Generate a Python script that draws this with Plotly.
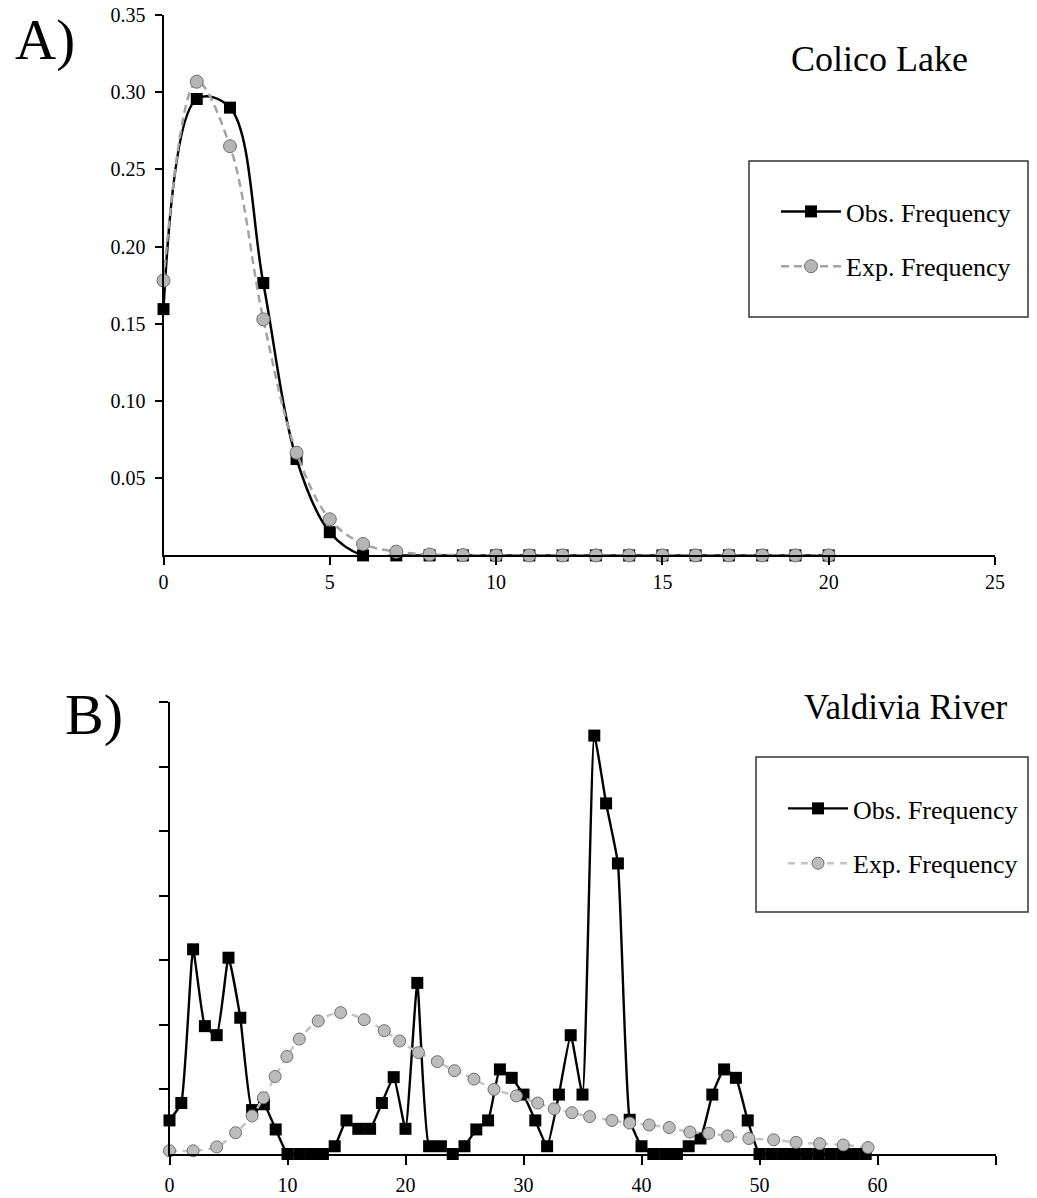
import plotly.graph_objects as go

# ---------------- Data ----------------
# Panel A: Colico Lake
a_x = list(range(21))
a_obs = [0.1595, 0.2956, 0.2900, 0.1764, 0.0624, 0.0150, 0.0, 0.0, 0.0, 0.0,
         0.0, 0.0, 0.0, 0.0, 0.0, 0.0, 0.0, 0.0, 0.0, 0.0, 0.0]
a_exp = [0.1780, 0.3068, 0.2650, 0.1529, 0.0665, 0.0234, 0.0074, 0.0024, 0.0006, 0.0002,
         0.0, 0.0, 0.0, 0.0, 0.0, 0.0, 0.0, 0.0, 0.0, 0.0, 0.0]

# Panel B: Valdivia River
b_obs_x = list(range(60))
b_obs = [0.0052, 0.0079, 0.0317, 0.0198, 0.0184, 0.0304, 0.0211, 0.0068, 0.0077, 0.0038,
         0.0, 0.0, 0.0, 0.0, 0.0012, 0.0052, 0.0039, 0.0039, 0.0079, 0.0119,
         0.0039, 0.0265, 0.0012, 0.0012, 0.0, 0.0012, 0.0038, 0.0052, 0.0131, 0.0118,
         0.0092, 0.0052, 0.0012, 0.0092, 0.0184, 0.0092, 0.0648, 0.0543, 0.0450, 0.0053,
         0.0012, 0.0, 0.0, 0.0, 0.0012, 0.0024, 0.0092, 0.0131, 0.0118, 0.0052,
         0.0, 0.0, 0.0, 0.0, 0.0, 0.0, 0.0, 0.0, 0.0, 0.0]
b_exp_x = [0.0, 2.0, 4.0, 5.6, 7.0, 7.95, 8.95, 9.95, 11.0, 12.6,
           14.5, 16.5, 18.2, 19.5, 21.1, 22.7, 24.15, 25.8, 27.5, 29.4,
           31.2, 32.6, 34.1, 35.6, 37.5, 39.0, 40.65, 42.35, 44.1, 45.7,
           47.3, 49.1, 51.2, 53.1, 55.1, 57.1, 59.2]
b_exp = [0.0005, 0.0005, 0.0011, 0.0033, 0.0059, 0.0087, 0.0120, 0.0151, 0.0178, 0.0206,
         0.0219, 0.0208, 0.0191, 0.0175, 0.0157, 0.0143, 0.0129, 0.0116, 0.0100, 0.0090,
         0.0079, 0.0070, 0.0064, 0.0058, 0.0052, 0.0048, 0.0045, 0.0041, 0.0034, 0.0032,
         0.0028, 0.0024, 0.0022, 0.0018, 0.0016, 0.0014, 0.0010]

a_xticks = [0, 5, 10, 15, 20, 25]
a_yticks = [0.05, 0.10, 0.15, 0.20, 0.25, 0.30, 0.35]
b_xticks = [0, 10, 20, 30, 40, 50, 60, 70]
b_xticktext = ["0", "10", "20", "30", "40", "50", "60", ""]
b_yticks = [0.01, 0.02, 0.03, 0.04, 0.05, 0.06, 0.07]

OBS_NAME = "Obs. Frequency"
EXP_NAME = "Exp. Frequency"
FONT = "Liberation Serif, Times New Roman, serif"

W, H = 1037, 1198
def px(x):
    return x / W
def py(y):
    return 1 - y / H

fig = go.Figure()

# Panel A traces
fig.add_trace(go.Scatter(
    x=a_x, y=a_obs, name=OBS_NAME, mode="lines+markers",
    line=dict(color="black", width=2.5, shape="spline", smoothing=1),
    marker=dict(symbol="square", size=12, color="black"),
    xaxis="x", yaxis="y", legend="legend", legendgroup="a_obs", cliponaxis=False))
fig.add_trace(go.Scatter(
    x=a_x, y=a_exp, name=EXP_NAME, mode="lines+markers",
    line=dict(color="#a3a3a3", width=2.5, shape="spline", smoothing=1, dash="8px,5px"),
    marker=dict(symbol="circle", size=13, color="#b5b5b5", line=dict(color="#6f6f6f", width=1)),
    xaxis="x", yaxis="y", legend="legend", legendgroup="a_exp", cliponaxis=False))

# Panel B traces
fig.add_trace(go.Scatter(
    x=b_obs_x, y=b_obs, name=OBS_NAME, mode="lines+markers",
    line=dict(color="black", width=2.4, shape="spline", smoothing=0.4),
    marker=dict(symbol="square", size=12, color="black"),
    xaxis="x2", yaxis="y2", legend="legend2", legendgroup="b_obs", cliponaxis=False))
fig.add_trace(go.Scatter(
    x=b_exp_x, y=b_exp, name=EXP_NAME, mode="lines+markers",
    line=dict(color="#c4c4c4", width=2.5, shape="spline", smoothing=1, dash="7px,6px"),
    marker=dict(symbol="circle", size=12, color="#bcbcbc", line=dict(color="#6f6f6f", width=1)),
    xaxis="x2", yaxis="y2", legend="legend2", legendgroup="b_exp", cliponaxis=False))

axis_common = dict(showgrid=False, zeroline=False, showline=True, linecolor="black",
                   linewidth=2, ticks="outside", tickcolor="black", tickwidth=2,
                   automargin=False,
                   tickfont=dict(family=FONT, size=20, color="black"))

fig.update_layout(
    template="none",
    width=W, height=H, margin=dict(l=0, r=0, t=0, b=0, pad=0, autoexpand=False),
    paper_bgcolor="white", plot_bgcolor="white",
    font=dict(family=FONT, color="black"),
    xaxis=dict(domain=[px(163.5), px(995)], range=[0, 25], anchor="y",
               tickvals=a_xticks, ticklen=8, ticklabelstandoff=0, **axis_common),
    yaxis=dict(domain=[py(555.4), py(15)], range=[0, 0.35], anchor="x",
               tickvals=a_yticks, ticktext=[f"{v:.2f}" for v in a_yticks],
               ticklen=7, ticklabelstandoff=5, **axis_common),
    xaxis2=dict(domain=[px(169.5), px(995.5)], range=[0, 70], anchor="y2",
                tickvals=b_xticks, ticktext=b_xticktext, ticklen=9,
                ticklabelstandoff=3, **axis_common),
    yaxis2=dict(domain=[py(1154), py(702)], range=[0, 0.07], anchor="x2",
                tickvals=b_yticks, showticklabels=False, ticklen=9, **axis_common),
    legend=dict(x=px(776), y=py(188), xanchor="left", yanchor="top",
                bgcolor="rgba(0,0,0,0)", borderwidth=0, itemwidth=60,
                traceorder="grouped", tracegroupgap=18,
                font=dict(family=FONT, size=26, color="black")),
    legend2=dict(x=px(783), y=py(785), xanchor="left", yanchor="top",
                 bgcolor="rgba(0,0,0,0)", borderwidth=0, itemwidth=60,
                 traceorder="grouped", tracegroupgap=18,
                 font=dict(family=FONT, size=26, color="black")),
    showlegend=True,
)

# Legend frames
fig.add_shape(type="rect", xref="paper", yref="paper",
              x0=px(749), x1=px(1028), y0=py(317), y1=py(161),
              line=dict(color="#333333", width=1.5), fillcolor="rgba(0,0,0,0)")
fig.add_shape(type="rect", xref="paper", yref="paper",
              x0=px(756), x1=px(1028), y0=py(912), y1=py(757),
              line=dict(color="#333333", width=1.5), fillcolor="rgba(0,0,0,0)")

# Panel labels and titles
ann = dict(xref="paper", yref="paper", showarrow=False, xanchor="center", yanchor="middle")
fig.add_annotation(text="A)", x=px(45), y=py(40),
                   font=dict(family=FONT, size=57, color="black"), **ann)
fig.add_annotation(text="B)", x=px(94), y=py(715),
                   font=dict(family=FONT, size=58, color="black"), **ann)
fig.add_annotation(text="Colico Lake", x=px(879.5), y=py(59),
                   font=dict(family=FONT, size=36, color="black"), **ann)
fig.add_annotation(text="Valdivia River", x=px(905), y=py(707),
                   font=dict(family=FONT, size=35, color="black"), **ann)

fig.write_html("out.html", config={"displayModeBar": False},
               post_script="document.body.style.margin='0';document.body.style.padding='0';document.documentElement.style.overflow='hidden';")
